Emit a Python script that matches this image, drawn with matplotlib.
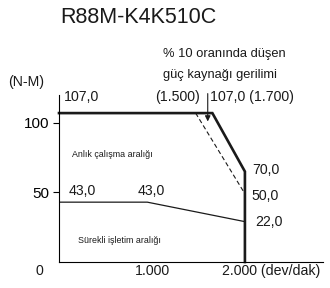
import matplotlib.pyplot as plt

plt.rcParams['font.family'] = ['Liberation Sans', 'DejaVu Sans']

# torque-speed curve (rpm, N-m) as drawn on the chart
peak_x = [0, 1650, 2000, 2000]
peak_y = [107, 107, 65, 0]
cont_x = [0, 950, 2000]
cont_y = [43, 43, 29]
dash_x = [1470, 2000]
dash_y = [107, 49]

title = 'R88M-K4K510C'
x_labels = ['0', '1.000', '2.000 (dev/dak)']
y_ticks = [50, 100]

fig = plt.figure(figsize=(3.3, 2.88), dpi=100)
ax = fig.add_axes([59 / 330, 26 / 288, 264 / 330, 167 / 288])
ax.set_xlim(0, 2840)
ax.set_ylim(0, 120)
for s in ['top', 'right']:
    ax.spines[s].set_visible(False)
ax.spines['left'].set_linewidth(0.8)
ax.spines['bottom'].set_linewidth(0.8)
ax.set_xticks([])
ax.set_yticks(y_ticks)
ax.set_yticklabels([str(v) for v in y_ticks], fontsize=11)
ax.tick_params(axis='y', length=4, width=0.8, pad=3)

ax.plot(peak_x, peak_y, color='#1a1a1a', lw=1.9, solid_joinstyle='miter', clip_on=False)
ax.plot(cont_x, cont_y, color='#1a1a1a', lw=0.9)
ax.plot(dash_x, dash_y, color='#1a1a1a', lw=0.8, ls=(0, (4, 2.5)))
ax.annotate('', xy=(1600, 99), xytext=(1600, 123),
            arrowprops=dict(arrowstyle='-|>', color='#1a1a1a', lw=0.8,
                            mutation_scale=8), annotation_clip=False)

kw = dict(fontsize=10.2, color='#1a1a1a', va='center', clip_on=False)
lw_kw = dict(fontsize=9.3, color='#1a1a1a', va='center', clip_on=False)
small = dict(fontsize=6.4, color='#1a1a1a', va='center')
ax.text(849, 175.5, title, ha='center', fontsize=15.5, color='#1a1a1a', va='center')
ax.text(-355, 129.5, '(N-M)', ha='center', **kw)
ax.text(54, 118.7, '107,0', ha='left', **kw)
ax.text(1516, 118.7, '(1.500)', ha='right', **kw)
ax.text(1623, 118.7, '107,0 (1.700)', ha='left', **kw)
ax.text(1118, 149.6, '% 10 oranında düşen', ha='left', **lw_kw)
ax.text(1118, 134.5, 'güç kaynağı gerilimi', ha='left', **lw_kw)
ax.text(140, 77, 'Anlık çalışma aralığı', ha='left', **small)
ax.text(204, 15.8, 'Sürekli işletim aralığı', ha='left', **small)
ax.text(2075, 66, '70,0', ha='left', **kw)
ax.text(2075, 47.5, '50,0', ha='left', **kw)
ax.text(2107, 28.8, '22,0', ha='left', **kw)
ax.text(107, 51, '43,0', ha='left', **kw)
ax.text(850, 51, '43,0', ha='left', **kw)

ax.text(-215, -6.5, x_labels[0], ha='center', **kw)
ax.text(1000, -6.5, x_labels[1], ha='center', **kw)
ax.text(1752, -6.5, x_labels[2], ha='left', **kw)

fig.savefig('out.png', dpi=100)
